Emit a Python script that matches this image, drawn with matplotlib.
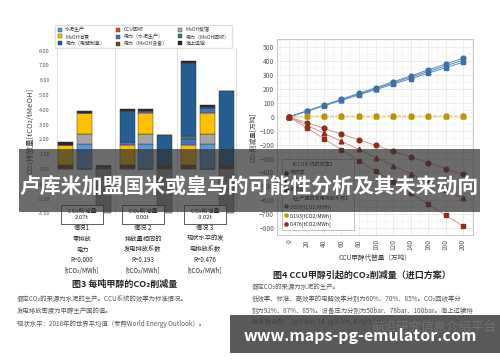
import matplotlib
matplotlib.use("Agg")
import matplotlib.pyplot as plt
from matplotlib.lines import Line2D
from matplotlib.patches import Rectangle

plt.rcParams["font.family"] = ["Noto Sans CJK SC", "DejaVu Sans"]

# ---- Fig.3 data: stacked emissions per bar [tCO2/tMeOH], 3 cases x 3 bars ----
ccu_recovery = [0.10, 0, 0.10, 0.10, 0, 0.10, 0.10, 0, 0.10]
power_meoh_plant = [0.20, 0, 0.10, 0.20, 0, 0.10, 0.20, 0, 0.10]
cement = [0, 1.70, 0, 0, 1.70, 0, 0, 1.70, 0]
meoh_distill = [0, 0.65, 0, 0, 0.65, 0, 0, 0.65, 0]
meoh_consume = [1.32, 1.40, 0, 1.35, 1.40, 0, 1.35, 1.40, 0]
power_cement = [0, 0, 0, 0.20, 0.15, 0, 0.35, 0.40, 0]
power_recovery = [0, 0, 0, 0, 0, 0, 0.20, 0, 0]
power_h2 = [0, 0, 0, 2.05, 0, 2.10, 4.95, 0.05, 5.10]
shipping = [0.18, 0.15, 0, 0.15, 0.15, 0, 0.15, 0.15, 0]
captured = [0, 0, -2.95, 0, 0, -2.95, 0, 0, -2.95]

reductions = ["2.07t", "0.00t", "-3.02t"]
case_labels = ["情况1\n零排放\n电力\nR=0.000\n[tCO₂/MWh]",
               "情况 2\n排放量相同的\n发电排放系数\nR=0.193\n[tCO₂/MWh]",
               "情况 3\n现状水平的发\n电排放系数\nR=0.476\n[tCO₂/MWh]"]

# ---- Fig.4 data: CO2 reduction [10k t] vs CCU methanol amount [10k t] --------
ccu_amount = [0, 20, 40, 60, 80, 100, 120, 140, 160, 180, 200]
r000_low = [0, 42, 84, 127, 169, 211, 253, 295, 338, 380, 422]
r000_std = [0, 41, 82, 122, 163, 204, 245, 286, 326, 367, 408]
r000_high = [0, 39, 79, 118, 157, 197, 236, 275, 314, 354, 393]
r193_low = [0, 5, 5, 5, 5, 5, 5, 5, 5, 5, 5]
r193_std = [0, 4, 4, 4, 5, 5, 5, 5, 5, 5, 5]
r193_high = [0, 4, 4, 4, 4, 4, 4, 4, 4, 4, 4]
r476_low = [0, -41, -82, -124, -165, -206, -248, -289, -330, -372, -413]
r476_std = [0, -59, -117, -176, -234, -293, -352, -410, -469, -527, -586]
r476_high = [0, -79, -157, -236, -314, -393, -472, -550, -629, -707, -786]

fig = plt.figure(figsize=(5, 3.62), dpi=100)
fig.patch.set_facecolor("white")

# ---------------- left: stacked bars ----------------
ax = fig.add_axes([0.108, 0.4064, 0.366, 0.4621])
xpos = [g * 3.25 + i for g in range(3) for i in range(3)]
stack = [
    (ccu_recovery, "CCU回收", "#c55a11"),
    (power_meoh_plant, "电力（MeOH设备）", "#843c0c"),
    (cement, "水泥生产", "#5b9bd5"),
    (meoh_distill, "MeOH蒸馏", "#a5a5a5"),
    (meoh_consume, "MeOH消费", "#ffc000"),
    (power_cement, "电力（水泥生产）", "#4472c4"),
    (power_recovery, "电力（MeOH回收）", "#3f7f5f"),
    (power_h2, "电力（电解制氢）", "#255e91"),
    (shipping, "海上运输", "#262626"),
]
bottom = [0.0] * 9
handles = {}
for vals, name, col in stack:
    ax.bar(xpos, vals, 0.79, bottom=bottom, color=col, edgecolor="#3a3a3a",
           linewidth=0.35)
    bottom = [b + v for b, v in zip(bottom, vals)]
    handles[name] = Line2D([], [], marker="s", ls="", ms=2.6, color=col,
                           markeredgecolor="#3a3a3a", markeredgewidth=0.3)
ax.bar(xpos, captured, 0.79, color="#a5a5a5", edgecolor="#3a3a3a", linewidth=0.35)

ax.set_xlim(-0.6, 9.05)
ax.set_ylim(-3.1, 8.2)
ax.set_yticks(range(-3, 9))
ax.set_yticklabels([f"{v:.2f}" for v in range(-3, 9)])
ax.tick_params(axis="y", labelsize=4, colors="#595959", length=0, pad=3)
ax.set_xticks([])
for s in ax.spines.values():
    s.set_visible(False)
for xv in [-0.45, 2.625, 5.875, 9.0]:
    ax.axvline(xv, color="#d9d9d9", lw=0.6, zorder=0)
ax.set_ylabel("CO₂排放量[tCO₂/tMeOH]", fontsize=5.5, color="#404040", labelpad=2)

order = ["水泥生产", "MeOH消费", "电力（电解制氢）",
         "CCU回收", "电力（水泥生产）", "电力（MeOH设备）",
         "MeOH蒸馏", "电力（MeOH回收）", "海上运输"]
fig.legend([handles[k] for k in order], order, loc="upper left",
           bbox_to_anchor=(0.11, 0.862, 0.354, 0.069), mode="expand", ncol=3,
           fontsize=3.6, frameon=True, fancybox=False, edgecolor="#d9d9d9",
           borderaxespad=0, handlelength=1.0, handletextpad=0.6,
           labelspacing=0.35, borderpad=0.4, labelcolor="#404040")

group_x = [82 / 500, 143 / 500, 205 / 500]
for gx, red, lab in zip(group_x, reductions, case_labels):
    fig.text(gx, 1 - 214.5 / 362, f"  CO₂削减量  \n{red}", ha="center", va="center",
             fontsize=4.3, linespacing=1.3, color="#262626",
             bbox=dict(boxstyle="square,pad=0.6", fc="white", ec="#404040", lw=0.6))
    fig.text(gx, 1 - 249.5 / 362, lab, ha="center", va="center", fontsize=4.5,
             linespacing=1.45, color="#262626")

fig.text(125 / 500, 1 - 284 / 362, "图3 每吨甲醇的CO₂削减量", ha="center",
         va="center", fontsize=6.5, fontweight="bold", color="#262626")
left_notes = ["假定CO₂的来源为水泥的生产。CCU系统的效率为标准情况。",
              "发电排放密度为甲醇生产国的值。",
              "现状水平：2018年的世界平均值（参照World Energy Outlook）。"]
for i, t in enumerate(left_notes):
    fig.text(17 / 500, 1 - (299 + 12.3 * i) / 362, t, ha="left", va="center",
             fontsize=4.6, color="#595959")

# ---------------- right: lines ----------------
ax2 = fig.add_axes([0.554, 0.3508, 0.392, 0.5414])
blue, gold, red = "#3e6fa6", "#b8960c", "#8c2d1e"
series = [
    (r000_low, "o", blue, "#5b8cc2", "-"), (r000_std, "^", blue, "#5b8cc2", "-"),
    (r000_high, "s", blue, "#5b8cc2", "-"),
    (r193_low, "o", gold, "#e8d27a", "--"), (r193_std, "^", gold, "#e8d27a", "--"),
    (r193_high, "s", gold, "#e8d27a", "--"),
    (r476_low, "o", red, "#d9958b", "-"), (r476_std, "^", red, "#d9958b", "-"),
    (r476_high, "s", red, "#d9958b", "-"),
]
for ys, mk, mc, lc, ls in series:
    ax2.plot(ccu_amount, ys, ls=ls, color=lc, lw=0.7, marker=mk, ms=3.4,
             mfc=mc, mec=mc, zorder=3)
ax2.set_xlim(-14, 211.5)
ax2.set_ylim(-850, 560)
ax2.set_xticks(ccu_amount)
ax2.set_yticks(range(-800, 501, 100))
ax2.set_xticks(range(-10, 211, 10), minor=True)
ax2.set_yticks(range(-850, 551, 50), minor=True)
ax2.tick_params(axis="x", labelsize=4.8, colors="#595959", rotation=90, length=0, pad=3)
ax2.tick_params(axis="y", labelsize=4.8, colors="#595959", length=0, pad=2)
ax2.tick_params(which="minor", length=0)
ax2.grid(True, which="major", color="#e3e3e3", lw=0.5)
ax2.grid(True, which="minor", color="#f0f0f0", lw=0.4)
ax2.set_axisbelow(True)
for s in ax2.spines.values():
    s.set_color("#bfbfbf")
    s.set_linewidth(0.6)
ax2.set_xlabel("CCU甲醇代替量（万吨）", fontsize=4.8, color="#404040", labelpad=3)
ax2.set_ylabel("CO₂削减量[万吨]", fontsize=4.8, color="#404040", labelpad=1)

blank = Line2D([], [], ls="", marker="")
leg_h = [blank,
         Line2D([], [], ls="", marker="o", ms=2.3, color="#262626"),
         Line2D([], [], ls="", marker="^", ms=2.3, color="#262626"),
         Line2D([], [], ls="", marker="s", ms=2.3, color="#262626"),
         blank,
         Line2D([], [], ls="", marker="o", ms=2.3, color=blue),
         Line2D([], [], ls="", marker="o", ms=2.3, color=gold),
         Line2D([], [], ls="", marker="o", ms=2.3, color=red)]
leg_l = ["【CCU系统的效率】", "低效率", "标准", "高效率",
         "【生产国的发电排放系数】", "0.000[tCO2/MWh]", "0.193[tCO2/MWh]",
         "0.476[tCO2/MWh]"]
leg = ax2.legend(leg_h, leg_l, loc="lower left", bbox_to_anchor=(0.01, 0.01),
                 fontsize=3.7, frameon=True, fancybox=False, edgecolor="#a6a6a6",
                 handlelength=0.6, handletextpad=0.4, labelspacing=0.62,
                 borderpad=0.6, framealpha=1, labelcolor="#262626")
leg.get_frame().set_linewidth(0.5)

fig.text(362 / 500, 1 - 275 / 362, "图4 CCU甲醇引起的CO₂削减量（进口方案）",
         ha="center", va="center", fontsize=6.5, fontweight="bold", color="#262626")
right_notes = ["假定CO₂的来源为水泥的生产。",
               "低效率、标准、高效率的电解效率分别为60%、70%、85%。CO₂回收率分",
               "别为92%、87%、85%。设备压力分别为50bar、78bar、100bar。海上运输排",
               "放系数分别：2g/t-km, 14.1g/t-km, 6.4g/t-km"]
for i, t in enumerate(right_notes):
    fig.text(252 / 500, 1 - (287 + 11.8 * i) / 362, t, ha="left", va="center",
             fontsize=4.6, color="#595959")

# ---------------- overlays: title banner + watermark ----------------
fig.patches.append(Rectangle((19 / 500, 1 - 212 / 362), 461 / 500, 63 / 362,
                             transform=fig.transFigure, fc="#333333", alpha=0.72,
                             ec="none", zorder=10))
fig.text(249 / 500, 1 - 186 / 362, "卢库米加盟国米或皇马的可能性分析及其未来动向",
         ha="center", va="center", fontsize=15, fontweight="bold", color="white",
         zorder=11)

fig.patches.append(Rectangle((230 / 500, 1 - 353 / 362), 270 / 500, 38 / 362,
                             transform=fig.transFigure, fc="#3c3c3c", alpha=0.85,
                             ec="none", zorder=10))
fig.text(496 / 500, 1 - 328 / 362, "前沿研究信息介绍平台", ha="right", va="center",
         fontsize=9, color="#8a8a8a", alpha=0.5, zorder=11)
fig.text(360 / 500, 1 - 336 / 362, "www.maps-pg-emulator.com", ha="center",
         va="center", fontsize=11.5, fontweight="bold", color="white", zorder=12)

fig.savefig("out.png", dpi=100)
